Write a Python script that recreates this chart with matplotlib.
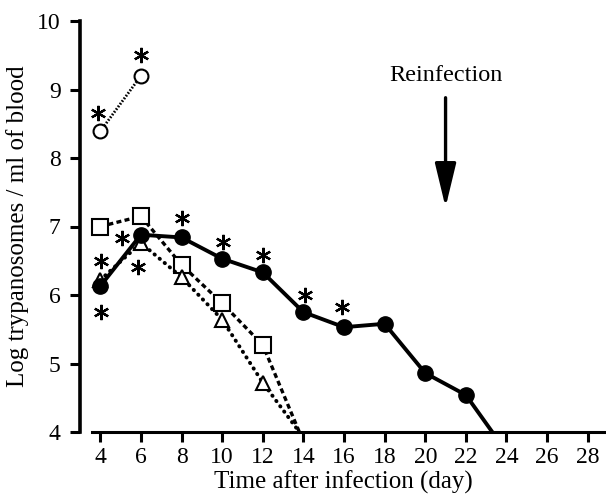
import matplotlib
matplotlib.use("Agg")
import matplotlib.pyplot as plt

plt.rcParams['font.family'] = ['Liberation Serif', 'DejaVu Serif']

# Data (log trypanosomes / ml of blood)
days_open = [4, 6]
vals_open = [8.39, 9.2]

days_square = [4, 6, 8, 10, 12, 13.8]
vals_square = [7.0, 7.15, 6.44, 5.88, 5.27, 4.0]

days_tri = [4, 6, 8, 10, 12, 13.8]
vals_tri = [6.22, 6.76, 6.26, 5.64, 4.72, 4.0]

days_filled = [4, 6, 8, 10, 12, 14, 16, 18, 20, 22, 23.3]
vals_filled = [6.13, 6.88, 6.84, 6.53, 6.33, 5.75, 5.53, 5.58, 4.86, 4.54, 4.0]

# significance asterisks
ast_x = [3.9, 6.0, 4.05, 4.05, 5.05, 5.87, 8.04, 10.05, 12.0, 14.1, 15.9]
ast_y = [8.65, 9.5, 6.5, 5.75, 6.83, 6.41, 7.12, 6.77, 6.58, 6.0, 5.82]

xticks = [4, 6, 8, 10, 12, 14, 16, 18, 20, 22, 24, 26, 28]
yticks = [4, 5, 6, 7, 8, 9, 10]

fig = plt.figure(figsize=(6.06, 5.03), dpi=100)
ax = fig.add_axes([80/606, 71/503, 526/606, 411/503])

ax.plot(days_open, vals_open, linestyle=(0, (0.6, 0.6)), color='k', lw=2.0,
        marker='o', ms=10, mfc='white', mec='k', mew=1.5, zorder=3)
ax.plot(days_square, vals_square, linestyle=(0, (1.5, 1.0)), color='k', lw=2.4,
        marker='s', ms=11, mfc='white', mec='k', mew=1.5, markevery=list(range(5)), zorder=3)
ax.plot(days_tri, vals_tri, linestyle=(0, (0.1, 1.6)), color='k', lw=2.8,
        dash_capstyle='round', marker='^', ms=10, mfc='white', mec='k', mew=1.5,
        markevery=list(range(5)), zorder=4)
ax.plot(days_filled, vals_filled, linestyle='-', color='k', lw=2.8,
        marker='o', ms=11, mfc='k', mec='k', markevery=list(range(10)), zorder=5)

ax.plot(ast_x, ast_y, linestyle='none', marker=(6, 2, 0), ms=11, mew=1.6,
        color='k', zorder=6)

ax.annotate('', xy=(21.0, 7.28), xytext=(21.0, 8.88),
            arrowprops=dict(arrowstyle='-|>,head_width=0.65,head_length=2.7',
                            lw=2.4, color='k', shrinkA=0, shrinkB=0))
ax.text(21.0, 9.21, 'Reinfection', ha='center', va='center', fontsize=17.5)

ax.set_xlim(3.0, 28.9)
ax.set_ylim(4, 10)
ax.set_xticks(xticks)
ax.set_yticks(yticks)
ax.tick_params(direction='out', length=7, width=2.2, labelsize=17)
ax.tick_params(axis='y', pad=7)
ax.tick_params(axis='x', pad=4)

for s in ['top', 'right']:
    ax.spines[s].set_visible(False)
ax.spines['left'].set_linewidth(2.6)
ax.spines['bottom'].set_linewidth(2.2)
ax.spines['bottom'].set_bounds(3.6, 28.9)

ax.set_xlabel('Time after infection (day)', fontsize=18, labelpad=2)
ax.set_ylabel('Log trypanosomes / ml of blood', fontsize=18, labelpad=6)

fig.savefig('out.png', dpi=100)
